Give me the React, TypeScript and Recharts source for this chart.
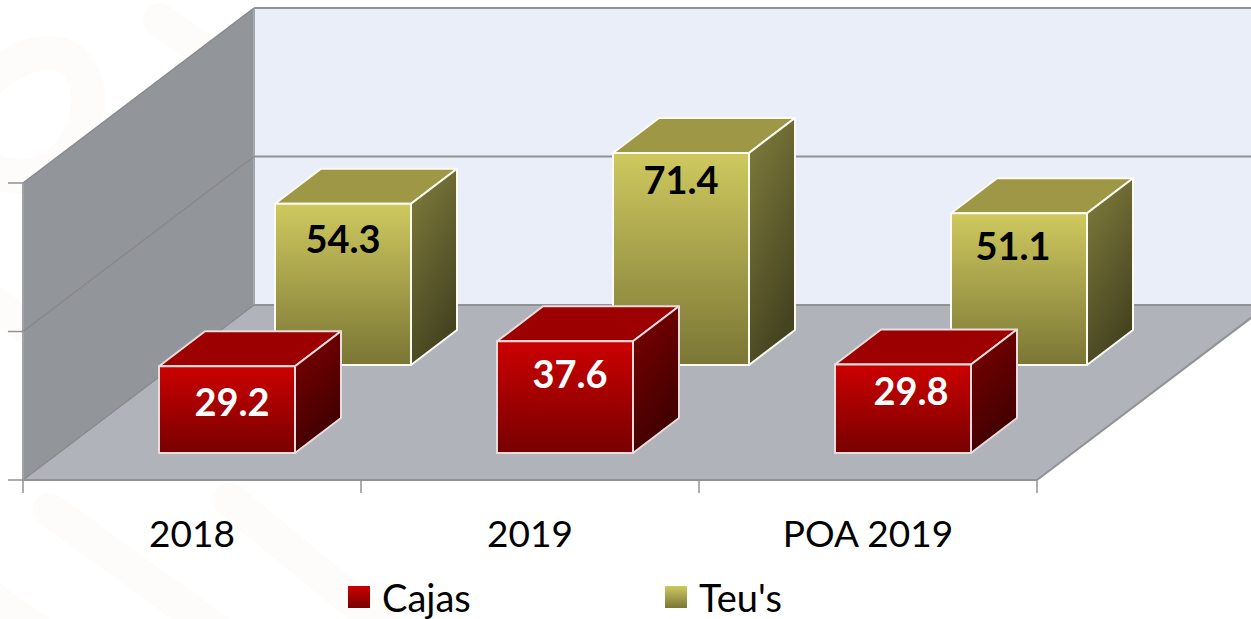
import React from 'react';
import { ComposedChart, Bar, XAxis, YAxis, ReferenceArea, ReferenceLine, Legend, LabelList } from 'recharts';

const categories = ['2018', '2019', 'POA 2019'];
const cajas = [29.2, 37.6, 29.8];
const teus = [54.3, 71.4, 51.1];
const yTicks = [0, 50, 100];

const chartData = categories.map((name, i) => ({ name, cajas: cajas[i], teus: teus[i] }));

const FONT = 'Lato, sans-serif';
const LINE = '#909296';
const BAND = 338;
const BAR_WIDTH = 136;
// 3D projection of the floor and of each box
const DEPTH = { dx: 231, dy: -175 };
const BOX = { dx: 46, dy: -35 };
const CAJAS_SHIFT = { dx: 35, dy: -27 };
const TEUS_SHIFT = { dx: 151, dy: -115 };
// the source chart places its data labels by hand
const cajasLabelNudge = [[5, 36], [5, 33], [8, 27]];
const teusLabelNudge = [[0, 36], [0, 27], [-6, 33]];

// very faint page watermark behind the chart
const Watermark = () => (
  <svg width={1251} height={619} style={{ position: 'absolute', left: 0, top: 0 }}>
    <g fill="none" stroke="#fefcfa" strokeWidth={34} strokeLinecap="round">
      <path d="M-10 80 C 60 20, 100 70, 85 120 C 75 160, 40 190, -10 170" />
      <path d="M160 20 L 230 70" />
      <path d="M-10 300 L 30 330" />
      <path d="M50 510 L 230 640" />
      <path d="M230 500 L 400 640" />
      <path d="M-20 590 L 50 640" />
    </g>
  </svg>
);

const Walls = ({ x, y, width, height }: any) => {
  const bottom = y + height;
  const right = x + width;
  const { dx, dy } = DEPTH;
  return (
    <g>
      <polygon points={`${x + dx},${y + dy} ${right + dx},${y + dy} ${right + dx},${bottom + dy} ${x + dx},${bottom + dy}`} fill="#e9eef9" />
      <polygon points={`${x},${y} ${x + dx},${y + dy} ${x + dx},${bottom + dy} ${x},${bottom}`} fill="#929599" />
      <polygon points={`${x},${bottom} ${right},${bottom} ${right + dx},${bottom + dy} ${x + dx},${bottom + dy}`} fill="#b0b3ba" />
      <line x1={x + dx} y1={y + dy} x2={x + dx} y2={bottom + dy} stroke="#a3a7ae" strokeWidth={2} />
      <line x1={x} y1={y} x2={x} y2={bottom} stroke="#a0a2a6" strokeWidth={2} />
      <line x1={right} y1={bottom} x2={right + dx} y2={bottom + dy} stroke={LINE} strokeWidth={2} />
    </g>
  );
};

// drawn as a zero-height reference area so it stays under the boxes
const GridLine = ({ x, y, width }: any) => {
  const { dx, dy } = DEPTH;
  return (
    <g>
      <line x1={x - 15} y1={y} x2={x} y2={y} stroke={LINE} strokeWidth={1.5} />
      <line x1={x} y1={y} x2={x + dx} y2={y + dy} stroke="#88898b" strokeWidth={1.5} />
      <line x1={x + dx} y1={y + dy} x2={x + width + dx} y2={y + dy} stroke={LINE} strokeWidth={2} />
    </g>
  );
};

const Box3D = ({ x, y, width, height, shift, prefix, edge }: any) => {
  const left = x + shift.dx;
  const top = y + shift.dy;
  const right = left + width;
  const bottom = top + height;
  const { dx, dy } = BOX;
  return (
    <g stroke={edge} strokeWidth={2} strokeLinejoin="round">
      <polygon points={`${left},${top} ${left + dx},${top + dy} ${right + dx},${top + dy} ${right},${top}`} fill={`url(#${prefix}Top)`} />
      <polygon points={`${right},${top} ${right + dx},${top + dy} ${right + dx},${bottom + dy} ${right},${bottom}`} fill={`url(#${prefix}Side)`} />
      <rect x={left} y={top} width={width} height={height} fill={`url(#${prefix}Front)`} />
    </g>
  );
};

const boxLabel = (shift: any, nudge: number[][], color: string) => ({ x, y, width, value, index }: any) => (
  <text
    x={x + shift.dx + width / 2 + nudge[index][0]}
    y={y + shift.dy + nudge[index][1]}
    dy="0.36em"
    textAnchor="middle"
    fontFamily={FONT}
    fontWeight={700}
    fontSize={38}
    fill={color}
  >
    {Number(value).toFixed(1)}
  </text>
);

const CategoryTick = ({ x, y, payload, index }: any) => (
  <g>
    <line x1={x - BAND / 2} y1={y - 1} x2={x - BAND / 2} y2={y + 13} stroke={LINE} strokeWidth={1.5} />
    {index === categories.length - 1 && (
      <line x1={x + BAND / 2} y1={y - 1} x2={x + BAND / 2} y2={y + 13} stroke={LINE} strokeWidth={1.5} />
    )}
    <text x={x} y={y + 67} textAnchor="middle" fontFamily={FONT} fontSize={37} fill="#000">
      {payload.value}
    </text>
  </g>
);

const swatches: Record<string, string> = {
  Cajas: 'linear-gradient(#cc0000, #780000)',
  "Teu's": 'linear-gradient(#cfc95f, #7a7635)',
};
const legendLeft: Record<string, number> = { Cajas: 348, "Teu's": 665 };

const ChartLegend = ({ payload }: any) => (
  <div style={{ position: 'relative', width: 1251, height: 44 }}>
    {(payload || []).map((item: any) => (
      <div key={item.value} style={{ position: 'absolute', left: legendLeft[item.value], top: 0, display: 'flex', alignItems: 'center', height: 44 }}>
        <span style={{ width: 22, height: 22, background: swatches[item.value], display: 'inline-block', marginRight: 12 }} />
        <span style={{ fontFamily: FONT, fontSize: 38, color: '#000', lineHeight: '44px' }}>{item.value}</span>
      </div>
    ))}
  </div>
);

export default function App() {
  return (
    <div style={{ position: 'absolute', left: 0, top: 0, width: 1251, height: 619, overflow: 'hidden', background: '#fff' }}>
      <Watermark />
      <ComposedChart
        width={1251}
        height={619}
        data={chartData}
        barSize={BAR_WIDTH}
        barGap={-BAR_WIDTH}
        margin={{ top: 183, right: 214, bottom: 0, left: 23 }}
      >
        <defs>
          <linearGradient id="redFront" x1="0" y1="0" x2="0" y2="1">
            <stop offset="0%" stopColor="#cc0000" />
            <stop offset="100%" stopColor="#780000" />
          </linearGradient>
          <linearGradient id="redSide" x1="0" y1="0" x2="0.4" y2="1">
            <stop offset="0%" stopColor="#800000" />
            <stop offset="100%" stopColor="#3f0000" />
          </linearGradient>
          <linearGradient id="redTop" x1="0" y1="0" x2="0" y2="1">
            <stop offset="0%" stopColor="#9c0000" />
            <stop offset="100%" stopColor="#9c0000" />
          </linearGradient>
          <linearGradient id="oliveFront" x1="0" y1="0" x2="0" y2="1">
            <stop offset="0%" stopColor="#cfc95f" />
            <stop offset="100%" stopColor="#7a7635" />
          </linearGradient>
          <linearGradient id="oliveSide" x1="0" y1="0" x2="0.4" y2="1">
            <stop offset="0%" stopColor="#827e3e" />
            <stop offset="100%" stopColor="#454420" />
          </linearGradient>
          <linearGradient id="oliveTop" x1="0" y1="0" x2="0" y2="1">
            <stop offset="0%" stopColor="#9e9746" />
            <stop offset="100%" stopColor="#9e9746" />
          </linearGradient>
        </defs>
        <ReferenceArea shape={Walls} ifOverflow="visible" />
        {yTicks.map((t) => (
          <ReferenceArea key={t} y1={t} y2={t} ifOverflow="visible" shape={GridLine as any} />
        ))}
        <ReferenceLine y={0} stroke={LINE} strokeWidth={2} ifOverflow="visible" />
        <XAxis
          dataKey="name"
          height={95}
          axisLine={false}
          tickLine={false}
          tickMargin={0}
          tickSize={0}
          interval={0}
          tick={CategoryTick}
        />
        <YAxis width={0} domain={[0, 100]} ticks={yTicks} tick={false} axisLine={false} tickLine={false} />
        <Legend verticalAlign="bottom" align="left" content={ChartLegend as any} wrapperStyle={{ left: 0, bottom: 0, width: 1251 }} />
        <Bar
          dataKey="teus"
          name="Teu's"
          fill="#b3ad50"
          isAnimationActive={false}
          shape={(props: any) => <Box3D {...props} shift={TEUS_SHIFT} prefix="olive" edge="#fbfbf2" />}
        >
          <LabelList dataKey="teus" content={boxLabel(TEUS_SHIFT, teusLabelNudge, '#000') as any} />
        </Bar>
        <Bar
          dataKey="cajas"
          name="Cajas"
          fill="#a80000"
          isAnimationActive={false}
          shape={(props: any) => <Box3D {...props} shift={CAJAS_SHIFT} prefix="red" edge="#e9dcdc" />}
        >
          <LabelList dataKey="cajas" content={boxLabel(CAJAS_SHIFT, cajasLabelNudge, '#fff') as any} />
        </Bar>
      </ComposedChart>
    </div>
  );
}
